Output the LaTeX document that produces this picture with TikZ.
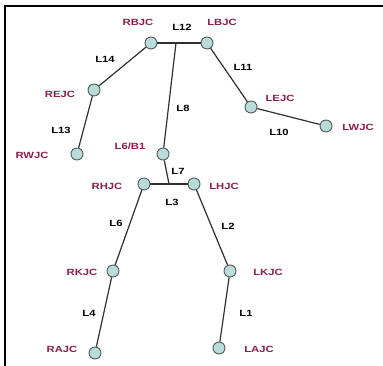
\documentclass[tikz,border=0pt]{standalone}
\usepackage{fontspec}
\newfontfamily\lblfont[FakeStretch=1.25]{Liberation Sans}
\begin{document}
\begin{tikzpicture}[x=1pt,y=-1pt,
  joint/.style={circle,draw=jointline,fill=jointfill,line width=0.9pt,minimum width=12pt,minimum height=11pt,inner sep=0pt},
  bone/.style={draw=boneline,line width=1.2pt},
  jlabel/.style={text=jointtext,font=\lblfont\fontsize{9}{9}\selectfont\bfseries,inner sep=0pt},
  llabel/.style={text=black,font=\lblfont\fontsize{9}{9}\selectfont\bfseries,inner sep=0pt},
  frameline/.style={draw=black,line width=1.8pt}]
\definecolor{jointline}{HTML}{4F5A5A}
\definecolor{jointfill}{HTML}{B9DCDA}
\definecolor{boneline}{HTML}{303030}
\definecolor{jointtext}{HTML}{8A1E4C}
\useasboundingbox (0,0) rectangle (383,366);
\draw[frameline] (5,370) -- (5,6) -- (390,6);
% joints
\node[joint] (RBJC) at (151,43) {};
\node[joint] (LBJC) at (207,43) {};
\node[joint] (REJC) at (94,90) {};
\node[joint] (RWJC) at (77,154) {};
\node[joint] (LEJC) at (251,107) {};
\node[joint] (LWJC) at (326,126) {};
\node[joint] (B1) at (163,154) {};
\node[joint] (RHJC) at (144,184) {};
\node[joint] (LHJC) at (194,184) {};
\node[joint] (RKJC) at (113,271) {};
\node[joint] (LKJC) at (230,271) {};
\node[joint] (RAJC) at (95,353) {};
\node[joint] (LAJC) at (219,348) {};
\coordinate (SM) at (176,43);
\coordinate (HM) at (169,184);
% bones
\draw[bone] (RBJC) -- (LBJC);
\draw[bone] (SM) -- (B1);
\draw[bone] (B1) -- (HM);
\draw[bone] (RHJC) -- (LHJC);
\draw[bone] (RBJC) -- (REJC);
\draw[bone] (REJC) -- (RWJC);
\draw[bone] (LBJC) -- (LEJC);
\draw[bone] (LEJC) -- (LWJC);
\draw[bone] (RHJC) -- (RKJC);
\draw[bone] (RKJC) -- (RAJC);
\draw[bone] (LHJC) -- (LKJC);
\draw[bone] (LKJC) -- (LAJC);
% joint labels
\node[jlabel] (tRBJC) at (138,22) {RBJC};
\node[jlabel] (tLBJC) at (222,22) {LBJC};
\node[jlabel] (tREJC) at (60,94) {REJC};
\node[jlabel] (tLEJC) at (280,98) {LEJC};
\node[jlabel] (tLWJC) at (358,127) {LWJC};
\node[jlabel] (tRWJC) at (32,155) {RWJC};
\node[jlabel] (tB1) at (130,146) {L6/B1};
\node[jlabel] (tRHJC) at (107,186) {RHJC};
\node[jlabel] (tLHJC) at (224,186) {LHJC};
\node[jlabel] (tRKJC) at (82,272) {RKJC};
\node[jlabel] (tLKJC) at (268,272) {LKJC};
\node[jlabel] (tRAJC) at (62,349) {RAJC};
\node[jlabel] (tLAJC) at (259,349) {LAJC};
% segment labels
\node[llabel] (l12) at (182,27) {L12};
\node[llabel] (l14) at (105,59) {L14};
\node[llabel] (l11) at (243,67) {L11};
\node[llabel] (l8) at (183,108) {L8};
\node[llabel] (l10) at (279,132) {L10};
\node[llabel] (l13) at (61,130) {L13};
\node[llabel] (l7) at (178,171) {L7};
\node[llabel] (l3) at (172,202) {L3};
\node[llabel] (l6) at (116,223) {L6};
\node[llabel] (l2) at (228,226) {L2};
\node[llabel] (l4) at (89,313) {L4};
\node[llabel] (l1) at (246,313) {L1};
\end{tikzpicture}
\end{document}
